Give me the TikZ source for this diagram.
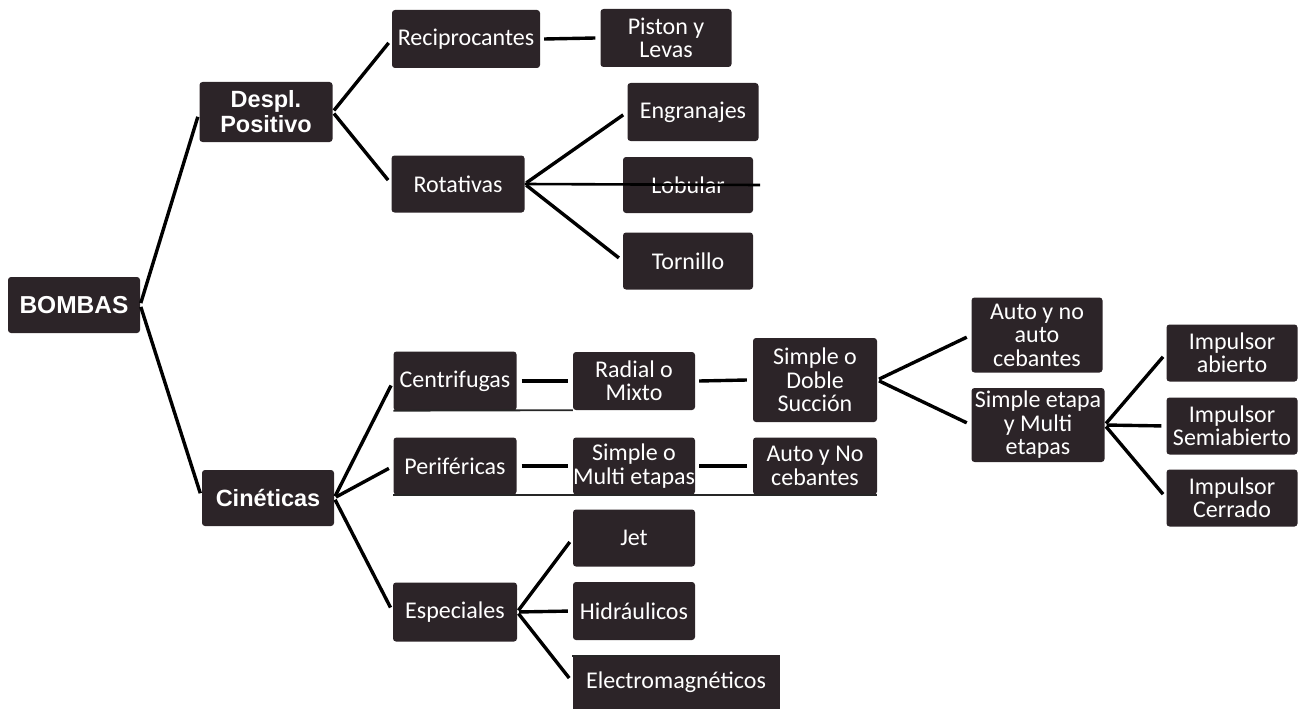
\documentclass[tikz,border=0pt]{standalone}
\usepackage{fontspec}
\setmainfont{Carlito}
\newfontfamily\boldsans{Liberation Sans}
\definecolor{boxc}{RGB}{44,36,40}
\tikzset{
  box/.style={fill=boxc, text=white, rounded corners=3pt, inner sep=0pt, align=center,
    font=\fontsize{24}{23.5}\selectfont},
  mainbox/.style={box, font=\boldsans\bfseries\fontsize{23.5}{25}\selectfont},
  conn/.style={line width=3.4pt, black, shorten >=5pt, shorten <=2pt},
  hconn/.style={line width=3.4pt, black},
  artline/.style={line width=1.8pt, black!85}
}
\begin{document}
\begin{tikzpicture}[x=1pt,y=-1pt]
\useasboundingbox (0,0) rectangle (1299,709);
% nodes
\node[mainbox, minimum width=132pt, minimum height=56pt, font=\boldsans\bfseries\fontsize{24.5}{25}\selectfont] (bombas) at (74,305) {BOMBAS};
\node[mainbox, minimum width=133pt, minimum height=60pt] (despl) at (266,112) {Despl.\\Positivo};
\node[mainbox, minimum width=132pt, minimum height=56pt] (cin) at (268,498) {Cinéticas};

\node[box, minimum width=148pt, minimum height=58pt] (recip) at (466,39) {Reciprocantes};
\node[box, minimum width=131pt, minimum height=58pt] (piston) at (666,38) {Piston y\\Levas};
\node[box, minimum width=133pt, minimum height=57pt] (rot) at (458,184) {Rotativas};
\node[box, minimum width=131pt, minimum height=58pt] (engr) at (693,112) {Engranajes};
\node[box, minimum width=130pt, minimum height=56pt] (lob) at (688,185) {Lobular};
\node[box, minimum width=130pt, minimum height=57pt] (torn) at (688,261) {Tornillo};

\node[box, minimum width=123pt, minimum height=59pt] (centr) at (455,381) {Centrifugas};
\node[box, minimum width=122pt, minimum height=58pt] (radial) at (634,381) {Radial o\\Mixto};
\node[box, minimum width=124pt, minimum height=84pt] (sdoble) at (815,380) {Simple o\\Doble\\Succión};
\node[box, minimum width=131pt, minimum height=75pt] (autono) at (1037,335) {Auto y no\\auto\\cebantes};
\node[box, minimum width=133pt, minimum height=74pt] (setapa) at (1038,425) {Simple etapa\\y Multi\\etapas};
\node[box, minimum width=131pt, minimum height=57pt] (iab) at (1232,353) {Impulsor\\abierto};
\node[box, minimum width=131pt, minimum height=57pt] (isemi) at (1232,426) {Impulsor\\Semiabierto};
\node[box, minimum width=131pt, minimum height=57pt] (icer) at (1232,498) {Impulsor\\Cerrado};

\node[box, minimum width=123pt, minimum height=57pt] (perif) at (455,466) {Periféricas};
\node[box, minimum width=122pt, minimum height=57pt] (smulti) at (634,466) {Simple o\\Multi etapas};
\node[box, minimum width=124pt, minimum height=57pt] (autoNo) at (815,466) {Auto y No\\cebantes};

\node[box, minimum width=124pt, minimum height=59pt] (esp) at (455,612) {Especiales};
\node[box, minimum width=122pt, minimum height=57pt] (jet) at (634,538) {Jet};
\node[box, minimum width=122pt, minimum height=58pt] (hidr) at (634,611) {Hidráulicos};
\node[box, minimum width=207pt, minimum height=54pt, rounded corners=0pt] (electro) at (676,682) {Electromagnéticos};

% connectors
\draw[conn] (bombas.east) -- (despl.west);
\draw[conn] (bombas.east) -- (cin.west);
\draw[conn] (despl.east) -- (recip.west);
\draw[conn] (despl.east) -- (rot.west);
\draw[hconn] ([xshift=4pt]recip.east) -- ([xshift=-5pt]piston.west);
\draw[conn] (rot.east) -- (engr.west);
\coordinate (lobend) at (760,185);
\draw[line width=2.6pt] (rot.east) -- (lobend);
\draw[conn] (rot.east) -- (torn.west);

\draw[conn] (cin.east) -- (centr.west);
\draw[conn] (cin.east) -- (perif.west);
\draw[conn] (cin.east) -- (esp.west);
\draw[hconn] ([xshift=5pt]centr.east) -- ([xshift=-5pt]radial.west);
\draw[hconn] ([xshift=4pt]radial.east) -- ([xshift=-6pt]sdoble.west);
\draw[conn] (sdoble.east) -- (autono.west);
\draw[conn] (sdoble.east) -- (setapa.west);
\draw[conn] (setapa.east) -- (iab.west);
\draw[conn] (setapa.east) -- (isemi.west);
\draw[conn] (setapa.east) -- (icer.west);
\draw[hconn] ([xshift=5pt]perif.east) -- ([xshift=-5pt]smulti.west);
\draw[hconn] ([xshift=4pt]smulti.east) -- ([xshift=-6pt]autoNo.west);
\draw[conn] (esp.east) -- (jet.west);
\draw[conn] (esp.east) -- (hidr.west);
\draw[conn] (esp.east) -- (electro.west);

% scan artefacts: rules under rows
\draw[artline] (centr.south west) -- (radial.south west);
\draw[artline] (perif.south west) -- (autoNo.south east);
\draw[artline] ([yshift=-1pt]electro.north west) -- ([xshift=123pt,yshift=-1pt]electro.north west);
\end{tikzpicture}
\end{document}
